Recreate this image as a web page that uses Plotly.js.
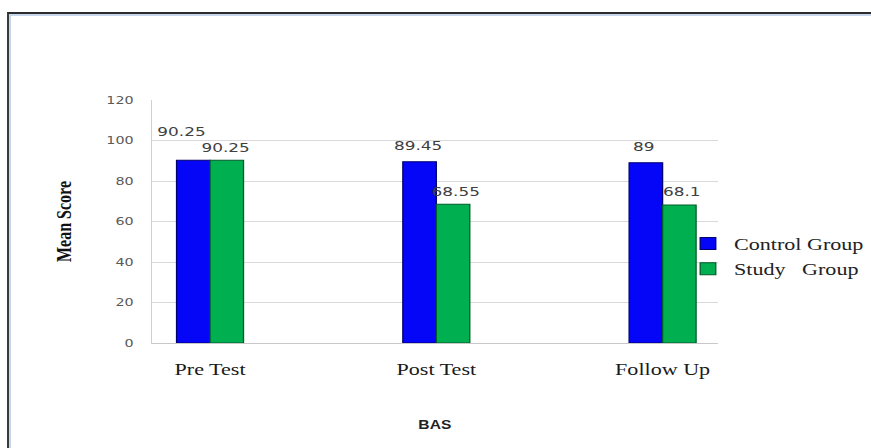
<!DOCTYPE html>
<html>
<head>
<meta charset="utf-8">
<script src="https://cdn.plot.ly/plotly-3.0.1.min.js"></script>
<style>
  html, body { margin: 0; padding: 0; background: #ffffff; overflow: hidden; }
  #wrap { position: relative; width: 871px; height: 448px; overflow: hidden; }
  /* chart is laid out narrow, then widened horizontally */
  #chart { position: absolute; left: 0; top: 0; width: 670px; height: 448px;
           transform: scaleX(1.3); transform-origin: 0 0; }
  #frame { position: absolute; left: 7px; top: 12px; width: 880px; height: 450px;
           border-top: 2px solid #2b2b2b; border-left: 2px solid #3c3c3c;
           box-shadow: inset 2px 2px 0 #c6d6ee; pointer-events: none; }
</style>
</head>
<body>
<div id="wrap">
  <div id="chart"></div>
  <div id="frame"></div>
</div>
<script>
// BAS mean scores per assessment
const categories = ['Pre Test', 'Post Test', 'Follow Up'];
const controlGroup = [90.25, 89.45, 89];
const studyGroup = [90.25, 68.55, 68.1];
const seriesNames = ['Control Group', 'Study\u00a0\u00a0\u00a0Group'];
const yTicks = [0, 20, 40, 60, 80, 100, 120];

// value label nudges (px) relative to category centre / bar top
const controlLabelShift = [[-22, 29], [-14, 16], [-14, 16]];
const studyLabelShift = [[11.5, 13], [14.5, 13], [14.5, 14]];

const blue = '#0505f7', blueEdge = '#00006e';
const green = '#00b050', greenEdge = '#005a28';

const traces = [
  { type: 'bar', name: seriesNames[0], x: categories, y: controlGroup,
    marker: { color: blue, line: { color: blueEdge, width: 1 } }, hoverinfo: 'skip' },
  { type: 'bar', name: seriesNames[1], x: categories, y: studyGroup,
    marker: { color: green, line: { color: greenEdge, width: 1 } }, hoverinfo: 'skip' }
];

const labelFont = { family: 'DejaVu Sans, sans-serif', size: 13, color: '#404040' };
const annotations = [];
[[controlGroup, controlLabelShift], [studyGroup, studyLabelShift]].forEach(([vals, shifts]) => {
  vals.forEach((v, i) => {
    annotations.push({
      x: categories[i], y: v, xref: 'x', yref: 'y', text: String(v),
      showarrow: false, xanchor: 'center', yanchor: 'middle',
      xshift: shifts[i][0], yshift: shifts[i][1], font: labelFont
    });
  });
});

const layout = {
  width: 670, height: 448,
  margin: { l: 117, r: 118, t: 100, b: 105, autoexpand: false },
  paper_bgcolor: '#ffffff', plot_bgcolor: '#ffffff',
  barmode: 'group', bargap: 0.704, bargroupgap: 0,
  showlegend: true,
  legend: {
    x: 0.937, xanchor: 'left', y: 0.356, yanchor: 'middle',
    bgcolor: 'rgba(0,0,0,0)', itemwidth: 30,
    font: { family: 'Liberation Serif, Times New Roman, serif', size: 17, color: '#222222' }
  },
  xaxis: {
    type: 'category', range: [-0.256, 2.243],
    showgrid: false, zeroline: false,
    showline: true, linecolor: '#c8c8c8', linewidth: 1,
    ticks: 'outside', ticklen: 11, tickcolor: 'rgba(0,0,0,0)',
    tickfont: { family: 'Liberation Serif, Times New Roman, serif', size: 17, color: '#1a1a1a' },
    title: { text: '<b>BAS</b>', standoff: 42,
             font: { family: 'Liberation Sans, Arial, sans-serif', size: 12, color: '#222222' } },
    fixedrange: true
  },
  yaxis: {
    range: [0, 120], tickvals: yTicks, ticktext: yTicks.map(String),
    showgrid: true, gridcolor: '#d9d9d9', gridwidth: 1,
    zeroline: false, showline: true, linecolor: '#d0d0d0', linewidth: 1,
    ticks: 'outside', ticklen: 11, tickcolor: 'rgba(0,0,0,0)',
    tickfont: { family: 'DejaVu Sans, sans-serif', size: 11, color: '#5a5a5a' },
    title: { text: '<b>Mean Score</b>', standoff: 22,
             font: { family: 'Liberation Serif, Times New Roman, serif', size: 16, color: '#111111' } },
    fixedrange: true
  },
  annotations: annotations
};

Plotly.newPlot('chart', traces, layout, { staticPlot: true, displayModeBar: false });
</script>
</body>
</html>
